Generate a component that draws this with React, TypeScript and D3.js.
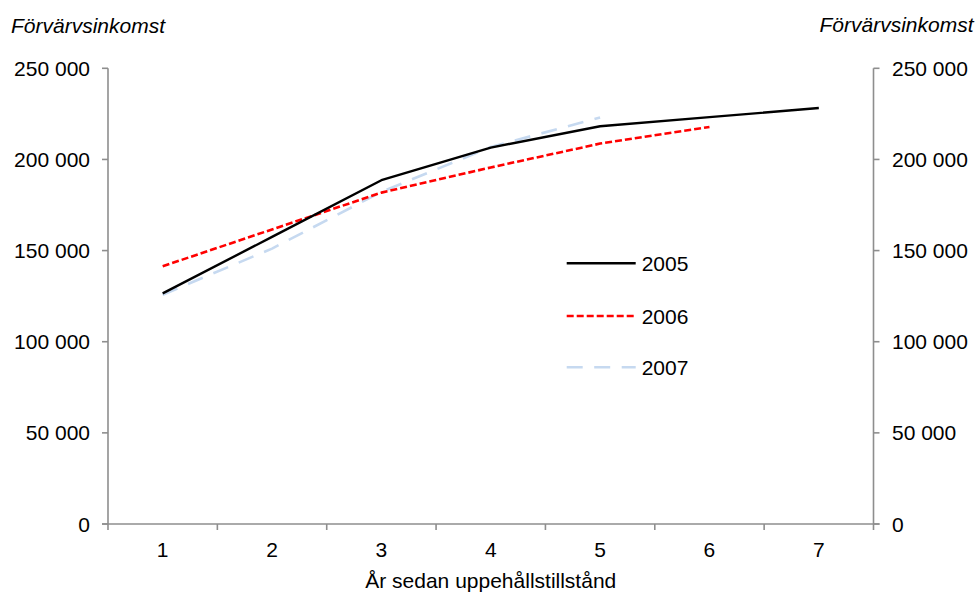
import React from "react";
import * as d3 from "d3";

const categories = ["1", "2", "3", "4", "5", "6", "7"];
const yTicks = [0, 50000, 100000, 150000, 200000, 250000];
const seriesNames = ["2005", "2006", "2007"];
const values2005 = [126500, 157500, 188600, 206500, 218200, 223200, 228200];
const values2006 = [141400, 161600, 181800, 195600, 208700, 217800];
const values2007 = [125800, 151100, 182200, 206800, 223000];
const yTitle = "Förvärvsinkomst";
const xTitle = "År sedan uppehållstillstånd";

const W = 977;
const H = 592;
const left = 108;
const right = 873.5;
const top = 68.3;
const bottom = 524;
const FONT = "'Liberation Sans', Arial, sans-serif";
const AXIS = "#8e8e8e";

const styles = [
  { stroke: "#000000", dash: "", width: 2.4 },
  { stroke: "#ff0000", dash: "7,3", width: 2.6 },
  { stroke: "#c6d9f0", dash: "16,11.5", width: 2.6 },
];

function fmt(v: number) {
  return d3.format(",")(v).replace(/,/g, " ");
}

export default function App() {
  const x = d3.scaleBand<string>().domain(categories).range([left, right]);
  const y = d3.scaleLinear().domain([0, 250000]).range([bottom, top]);
  const cx = (i: number) => (x(categories[i]) as number) + x.bandwidth() / 2;
  const line = d3
    .line<number>()
    .x((_, i) => cx(i))
    .y((d) => y(d));
  const data = [values2005, values2006, values2007];
  const boundaries = categories.map((c) => x(c) as number).concat([right]);
  const legendX1 = 566.7;
  const legendX2 = 635.7;
  const legendRows = [263.3, 316, 367.3];

  return (
    <svg
      width={W}
      height={H}
      style={{ position: "absolute", left: 0, top: 0, background: "#fff" }}
      fontFamily={FONT}
    >
      <rect x={0} y={0} width={W} height={H} fill="#fff" />
      {/* axes */}
      <line x1={left} y1={top} x2={left} y2={bottom} stroke={AXIS} strokeWidth={1.6} />
      <line x1={right} y1={top} x2={right} y2={bottom} stroke={AXIS} strokeWidth={1.6} />
      <line x1={left - 6} y1={bottom} x2={right + 6} y2={bottom} stroke={AXIS} strokeWidth={1.6} />
      {yTicks.map((t) => (
        <g key={"yt" + t}>
          <line x1={left - 6} x2={left} y1={y(t)} y2={y(t)} stroke={AXIS} strokeWidth={1.6} />
          <line x1={right} x2={right + 6} y1={y(t)} y2={y(t)} stroke={AXIS} strokeWidth={1.6} />
          <text x={90} y={y(t) + 7.5} textAnchor="end" fontSize={21} fill="#000">
            {fmt(t)}
          </text>
          <text x={892} y={y(t) + 7.5} textAnchor="start" fontSize={21} fill="#000">
            {fmt(t)}
          </text>
        </g>
      ))}
      {boundaries.map((b, i) => (
        <line key={"xt" + i} x1={b} x2={b} y1={bottom} y2={bottom + 6} stroke={AXIS} strokeWidth={1.6} />
      ))}
      {categories.map((c, i) => (
        <text key={"xl" + c} x={cx(i)} y={557} textAnchor="middle" fontSize={21} fill="#000">
          {c}
        </text>
      ))}
      <text x={(left + right) / 2} y={588} textAnchor="middle" fontSize={21} fill="#000">
        {xTitle}
      </text>
      <text x={11} y={33} fontSize={21} fontStyle="italic" fill="#000">
        {yTitle}
      </text>
      <text x={973.5} y={31.7} textAnchor="end" fontSize={21} fontStyle="italic" fill="#000">
        {yTitle}
      </text>
      {/* series */}
      {[2, 1, 0].map((k) => (
        <path
          key={"s" + k}
          d={line(data[k]) as string}
          fill="none"
          stroke={styles[k].stroke}
          strokeWidth={styles[k].width}
          strokeDasharray={styles[k].dash}
          strokeLinejoin="round"
        />
      ))}
      {/* legend */}
      {seriesNames.map((n, k) => (
        <g key={"lg" + n}>
          <line
            x1={legendX1}
            x2={legendX2}
            y1={legendRows[k]}
            y2={legendRows[k]}
            stroke={styles[k].stroke}
            strokeWidth={styles[k].width}
            strokeDasharray={styles[k].dash}
          />
          <text x={641.7} y={legendRows[k] + 7.5} fontSize={21} fill="#000">
            {n}
          </text>
        </g>
      ))}
    </svg>
  );
}
